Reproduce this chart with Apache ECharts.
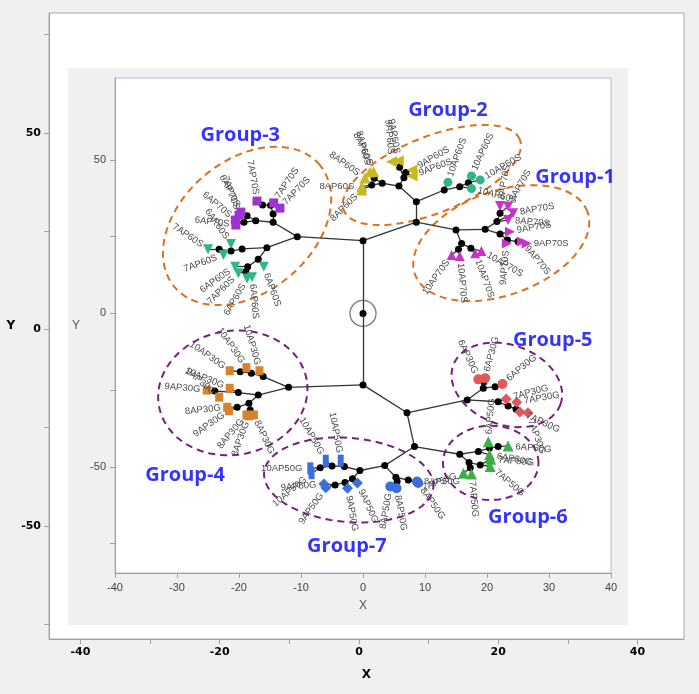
<!DOCTYPE html>
<html>
<head>
<meta charset="utf-8">
<script src="https://cdn.jsdelivr.net/npm/echarts@6/dist/echarts.min.js"></script>
<style>
  html, body { margin: 0; padding: 0; background: #f0f0f0; }
  #main { width: 699px; height: 694px; }
</style>
</head>
<body>
<div id="main"></div>
<script>
// ---- axis ticks ----
var outerXLabels = [-40, -20, 0, 20, 40];
var outerXTicks = [-40, -30, -20, -10, 0, 10, 20, 30, 40];
var outerYLabels = [50, 0, -50];
var outerYTicks = [75, 50, 25, 0, -25, -50, -75];
var innerYLabels = [50, 0, -50];
var innerYTicks = [50, 25, 0, -25, -50, -75];

// ---- tree: inner nodes [id, x, y] ----
var treeNodes = [
  ['R', 0, 0], ['UJ', 0, 23.7], ['LJ', 0, -23.3],
  ['G3A', -10.6, 25.0], ['G12', 8.6, 29.7], ['G2S', 8.6, 36.4], ['G1A', 15.0, 27.2],
  ['G4A', -12.0, -24.1], ['LJ2', 7.1, -32.4], ['G5A', 16.8, -28.2], ['LJ3', 8.3, -43.4],
  ['G6A', 15.6, -45.9], ['G7A', 3.5, -49.6],
  ['B3', -14.5, 29.7], ['C3', -14.5, 32.4], ['D3', -14.9, 35.2], ['D3b', -16.2, 35.3],
  ['E3', -17.3, 30.2], ['F3', -18.7, 31.8], ['G3', -19.2, 29.7], ['H3', -15.5, 21.4],
  ['I3', -19.5, 21.0], ['J3', -21.3, 20.3], ['K3', -23.2, 20.9], ['L3', -16.9, 17.6],
  ['M3', -18.6, 15.2], ['N3', -18.9, 13.6],
  ['P2', 5.8, 41.5], ['Q2', 6.6, 44.2], ['R2', 5.9, 47.6], ['S2', 6.9, 45.9],
  ['T2', 3.1, 42.4], ['U2', 1.4, 41.8], ['V2', 1.8, 44.0],
  ['W2', 13.1, 40.2], ['X2', 15.6, 41.3], ['Y2', 17.0, 42.6],
  ['P1', 19.7, 27.4], ['Q1', 21.6, 29.9], ['R1', 22.1, 32.6], ['S1', 22.1, 25.9],
  ['T1', 23.3, 23.9], ['U1', 25.0, 23.4], ['V1', 15.9, 22.8], ['W1', 15.4, 20.9], ['X1', 17.4, 21.2],
  ['P4', -16.1, -20.6], ['Q4', -18.0, -19.5], ['R4', -19.8, -19.0], ['S4', -16.9, -26.6],
  ['T4', -20.1, -25.8], ['U4', -23.9, -25.3], ['V4', -18.4, -29.3], ['W4', -20.3, -30.6], ['X4', -18.2, -31.5],
  ['P5', 19.4, -24.4], ['Q5', 19.5, -22.4], ['R5', 21.3, -23.9], ['S5', 21.8, -28.8],
  ['T5', 23.4, -30.2], ['U5', 24.7, -31.2],
  ['P6', 18.6, -45.0], ['Q6', 20.4, -43.9], ['R6', 21.8, -43.4], ['S6', 17.1, -48.6],
  ['T6', 17.3, -50.3], ['U6', 18.9, -49.4],
  ['P7', -0.5, -51.2], ['Q7', -3.0, -49.9], ['R7', -5.0, -49.7], ['S7', -6.9, -50.3],
  ['T7', -1.7, -53.9], ['U7', -2.9, -55.1], ['V7', -4.5, -55.9],
  ['W7', 5.3, -53.4], ['X7', 5.5, -54.8], ['Y7', 7.3, -54.3]
];

// ---- leaves [id, x, y, label, label angle] ----
var purple70S = [
  ['s1', -17.1, 36.6, '7AP70S', 100], ['s2', -14.4, 36.0, '7AP70S', 56], ['s3', -13.4, 34.3, '7AP70S', 46],
  ['s4', -19.7, 33.0, '6AP70S', 118], ['s4b', -20.0, 32.0, '7AP70S', 110],
  ['s5', -20.6, 30.4, '6AP70S', 140], ['s6', -20.5, 28.8, '6AP70S', 173]
];
var teal60S = [
  ['t1', -25.0, 20.9, '7AP60S', 146], ['t2', -22.5, 19.0, '7AP60S', 200], ['t3', -21.3, 22.6, '6AP60S', 125],
  ['t4', -20.6, 15.2, '6AP60S', 215], ['t5', -20.1, 13.1, '7AP60S', 225], ['t6', -18.7, 11.4, '6AP60S', 240],
  ['t7', -17.9, 11.8, '6AP60S', 275], ['t8', -16.0, 15.2, '6AP60S', 290]
];
var yellow9AP60S = [
  ['y1', 4.6, 49.4, '9AP60S', 95], ['y2', 5.7, 49.7, '9AP60S', 100],
  ['y3', 7.9, 46.7, '9AP60S', 30], ['y4', 7.9, 44.8, '9AP60S', 20]
];
var yellow8AP60S = [
  ['y5', 1.7, 46.2, '8AP60S', 115], ['y5b', 1.1, 46.1, '8AP60S', 105], ['y6', 0.3, 44.1, '8AP60S', 145],
  ['y7', -0.2, 41.3, '8AP60S', 180], ['y8', -0.2, 40.2, '8AP60S', 225]
];
var teal10AP60S = [
  ['c1', 13.7, 42.7, '10AP60S', 70], ['c2', 17.5, 44.8, '10AP60S', 65],
  ['c3', 18.9, 43.5, '10AP60S', 30], ['c4', 17.5, 40.7, '10AP60S', -15]
];
var mag8AP70S = [
  ['m1', 22.1, 35.0, '8AP70S', 80], ['m2', 23.4, 34.8, '8AP70S', 60],
  ['m3', 24.2, 32.6, '8AP70S', 10], ['m4', 23.4, 30.4, '8AP70S', -5]
];
var mag9AP70S = [
  ['m5', 23.7, 26.6, '9AP70S', 10], ['m6', 25.6, 23.4, '9AP70S', -50],
  ['m7', 26.4, 22.8, '9AP70S', 0], ['m8', 23.2, 22.8, '9AP70S', 265]
];
var mag10AP70S = [
  ['m9', 14.3, 19.0, '10AP70S', 235], ['m10', 15.6, 18.7, '10AP70S', 275],
  ['m11', 18.1, 19.6, '10AP70S', 290], ['m12', 19.1, 20.3, '10AP70S', 330]
];
var orange30G = [
  ['o1', -21.5, -18.7, '10AP30G', 145], ['o2', -18.8, -17.7, '10AP30G', 125], ['o3', -16.7, -18.7, '10AP30G', 106],
  ['o5', -21.5, -24.4, '10AP30G', 158], ['o6', -23.2, -27.3, '9AP30G', 140], ['o4', -25.2, -25.0, '9AP30G', 175],
  ['o7', -21.9, -30.6, '8AP30G', 186], ['o8', -21.6, -31.7, '9AP30G', 215], ['o9', -18.8, -33.1, '8AP30G', 230],
  ['o10', -18.4, -33.4, '8AP30G', 250], ['o11', -17.6, -33.1, '8AP30G', 295]
];
var red6AP30G = [
  ['r1', 18.6, -21.5, '6AP30G', 115], ['r2', 19.7, -21.1, '6AP30G', 75], ['r3', 22.5, -23.0, '6AP30G', 40]
];
var red7AP30G = [
  ['r4', 23.1, -27.9, '7AP30G', 15], ['r5', 24.8, -29.0, '7AP30G', 10],
  ['r6', 25.3, -32.1, '7AP30G', -25], ['r7', 26.6, -32.4, '7AP30G', -70]
];
var green50G = [
  ['g1', 20.2, -41.8, '6AP50G', 85], ['g2', 23.4, -43.2, '6AP50G', -5], ['g3', 20.4, -46.1, '6AP50G', -10],
  ['g3b', 20.6, -47.5, '7AP50G', -5], ['g4', 20.5, -49.9, '7AP50G', -40],
  ['g5', 16.2, -52.1, '7AP50G', 200], ['g6', 17.5, -52.3, '7AP50G', 275]
];
var blue10AP50G = [
  ['b1', -8.5, -50.5, '10AP50G', 180], ['b1b', -8.3, -52.1, '10AP50G', 220],
  ['b2', -6.0, -48.0, '10AP50G', 120], ['b3', -3.6, -48.0, '10AP50G', 100]
];
var blue9AP50G = [
  ['b4', -6.0, -56.8, '9AP50G', 235], ['b5', -6.3, -55.6, '9AP50G', 185],
  ['b6', -2.5, -57.0, '9AP50G', 280], ['b7', -0.9, -55.3, '9AP50G', 295]
];
var blue8AP50G = [
  ['b8', 4.4, -56.4, '8AP50G', 260], ['b9', 5.4, -57.0, '8AP50G', 280],
  ['b10', 8.7, -54.8, '8AP50G', 0], ['b11', 8.9, -55.3, '8AP50G', 305]
];

// ---- tree edges ----
var treeEdges = [
  ['R', 'UJ'], ['R', 'LJ'], ['UJ', 'G3A'], ['UJ', 'G12'], ['G12', 'G2S'], ['G12', 'G1A'],
  ['LJ', 'G4A'], ['LJ', 'LJ2'], ['LJ2', 'G5A'], ['LJ2', 'LJ3'], ['LJ3', 'G6A'], ['LJ3', 'G7A'],
  ['G3A', 'B3'], ['B3', 'C3'], ['C3', 'D3'], ['D3', 'D3b'], ['D3', 's2'], ['D3', 's3'], ['D3b', 's1'],
  ['B3', 'E3'], ['E3', 'F3'], ['E3', 'G3'], ['F3', 's4'], ['F3', 's4b'], ['G3', 's5'], ['G3', 's6'],
  ['G3A', 'H3'], ['H3', 'I3'], ['I3', 'J3'], ['J3', 'K3'], ['K3', 't1'], ['K3', 't2'], ['J3', 't3'],
  ['H3', 'L3'], ['L3', 'M3'], ['M3', 'N3'], ['M3', 't4'], ['N3', 't5'], ['N3', 't6'], ['N3', 't7'], ['L3', 't8'],
  ['G2S', 'P2'], ['P2', 'Q2'], ['Q2', 'R2'], ['Q2', 'S2'], ['R2', 'y1'], ['R2', 'y2'], ['S2', 'y3'], ['S2', 'y4'],
  ['P2', 'T2'], ['T2', 'U2'], ['T2', 'V2'], ['V2', 'y5'], ['V2', 'y5b'], ['U2', 'y6'], ['U2', 'y7'], ['U2', 'y8'],
  ['G2S', 'W2'], ['W2', 'c1'], ['W2', 'X2'], ['X2', 'Y2'], ['Y2', 'c2'], ['Y2', 'c3'], ['X2', 'c4'],
  ['G1A', 'P1'], ['P1', 'Q1'], ['Q1', 'R1'], ['R1', 'm1'], ['R1', 'm2'], ['Q1', 'm3'], ['Q1', 'm4'],
  ['P1', 'S1'], ['S1', 'm5'], ['S1', 'T1'], ['T1', 'U1'], ['U1', 'm6'], ['U1', 'm7'], ['T1', 'm8'],
  ['G1A', 'V1'], ['V1', 'W1'], ['W1', 'm9'], ['W1', 'm10'], ['V1', 'X1'], ['X1', 'm11'], ['X1', 'm12'],
  ['G4A', 'P4'], ['P4', 'Q4'], ['Q4', 'R4'], ['R4', 'o1'], ['Q4', 'o2'], ['P4', 'o3'],
  ['G4A', 'S4'], ['S4', 'T4'], ['T4', 'U4'], ['U4', 'o4'], ['U4', 'o6'], ['T4', 'o5'],
  ['S4', 'V4'], ['V4', 'W4'], ['V4', 'X4'], ['W4', 'o7'], ['W4', 'o8'], ['X4', 'o9'], ['X4', 'o10'], ['X4', 'o11'],
  ['G5A', 'P5'], ['P5', 'Q5'], ['Q5', 'r1'], ['Q5', 'r2'], ['P5', 'R5'], ['R5', 'r3'],
  ['G5A', 'S5'], ['S5', 'r4'], ['S5', 'T5'], ['T5', 'U5'], ['U5', 'r5'], ['U5', 'r6'], ['T5', 'r7'],
  ['G6A', 'P6'], ['P6', 'Q6'], ['Q6', 'R6'], ['Q6', 'g1'], ['R6', 'g2'], ['P6', 'g3'],
  ['G6A', 'S6'], ['S6', 'T6'], ['S6', 'U6'], ['U6', 'g4'], ['U6', 'g3b'], ['T6', 'g5'], ['T6', 'g6'],
  ['G7A', 'P7'], ['P7', 'Q7'], ['Q7', 'R7'], ['R7', 'S7'], ['S7', 'b1'], ['S7', 'b1b'], ['R7', 'b2'], ['Q7', 'b3'],
  ['P7', 'T7'], ['T7', 'U7'], ['U7', 'V7'], ['V7', 'b4'], ['V7', 'b5'], ['U7', 'b6'], ['T7', 'b7'],
  ['G7A', 'W7'], ['W7', 'X7'], ['X7', 'b8'], ['X7', 'b9'], ['W7', 'Y7'], ['Y7', 'b10'], ['Y7', 'b11']
];

// ---- dashed group outlines [cx, cy, rx, ry, tilt deg] ----
var orangeOutlines = [[-18.7, 28.5, 15.3, 21.5, 40], [11.1, 45.1, 15.3, 12.4, 22], [22.3, 22.9, 14.8, 16.9, 20]];
var purpleOutlines = [[-21.0, -25.9, 12.1, 20.2, 10], [23.2, -23.3, 9.2, 13.0, -20], [20.6, -48.7, 7.7, 12.1, 0], [-2.3, -54.3, 13.7, 13.7, -5]];

// ---- group captions ----
var groupNames = ['Group-1', 'Group-2', 'Group-3', 'Group-4', 'Group-5', 'Group-6', 'Group-7'];
var groupX = [34.2, 13.7, -19.8, -28.7, 30.6, 26.6, -2.6];
var groupY = [44.4, 66.1, 58.1, -52.6, -8.7, -66.6, -75.8];

// ---------------------------------------------------------------
var chart = echarts.init(document.getElementById('main'));

var LABEL_FONT = 'Liberation Sans';
var triDown = 'path://M0,0L10,0L5,10Z';
var triRight = 'path://M0,0L10,5L0,10Z';
var triLeft = 'path://M10,0L0,5L10,10Z';

function leafItem(leaf, w, h) {
  var ang = leaf[4];
  while (ang > 180) ang -= 360;
  var r = ang * Math.PI / 180;
  var c = Math.cos(r), s = Math.sin(r);
  var d = Math.max(w, h) / 2 + 2;
  var right = c >= -0.001;
  var rot = right ? ang : (ang > 0 ? ang - 180 : ang + 180);
  return {
    name: leaf[0],
    value: [leaf[1], leaf[2]],
    label: {
      show: true,
      formatter: leaf[3],
      position: [w / 2 + d * c, h / 2 - d * s],
      align: right ? 'left' : 'right',
      verticalAlign: 'middle',
      rotate: rot,
      fontSize: 9.5,
      fontFamily: LABEL_FONT,
      color: '#4a4a4a'
    }
  };
}

function leafSeries(list, symbol, size, color) {
  var w = Array.isArray(size) ? size[0] : size;
  var h = Array.isArray(size) ? size[1] : size;
  return {
    type: 'scatter',
    xAxisIndex: 1, yAxisIndex: 1,
    symbol: symbol,
    symbolSize: size,
    itemStyle: { color: color, opacity: 1 },
    z: 4,
    silent: true,
    data: list.map(function (l) { return leafItem(l, w, h); })
  };
}

var allLeaves = [].concat(purple70S, teal60S, yellow9AP60S, yellow8AP60S, teal10AP60S,
  mag8AP70S, mag9AP70S, mag10AP70S, orange30G, red6AP30G, red7AP30G, green50G,
  blue10AP50G, blue9AP50G, blue8AP50G);

var graphData = treeNodes.map(function (n) {
  return { name: n[0], value: [n[1], n[2]], symbolSize: 7, itemStyle: { color: '#000' } };
}).concat(allLeaves.map(function (l) {
  return { name: l[0], value: [l[1], l[2]], symbolSize: 1, itemStyle: { color: 'rgba(0,0,0,0)' } };
}));

var outlineData = orangeOutlines.map(function (o) { return o.concat([0]); })
  .concat(purpleOutlines.map(function (o) { return o.concat([1]); }));
var outlineColors = ['#dd6f1e', '#7a1c80'];

function renderOutline(params, api) {
  var c = api.coord([api.value(0), api.value(1)]);
  var a = api.size([api.value(2), 0])[0];
  var b = api.size([0, api.value(3)])[1];
  var t = api.value(4) * Math.PI / 180;
  var pts = [];
  for (var i = 0; i < 90; i++) {
    var u = i / 90 * Math.PI * 2;
    var ex = a * Math.cos(u), ey = b * Math.sin(u);
    var X = ex * Math.cos(t) - ey * Math.sin(t);
    var Y = ex * Math.sin(t) + ey * Math.cos(t);
    pts.push([c[0] + X, c[1] - Y]);
  }
  return {
    type: 'polygon',
    shape: { points: pts },
    style: { fill: 'rgba(0,0,0,0)', stroke: outlineColors[api.value(5)], lineWidth: 2, lineDash: [7, 5] }
  };
}

var OL = 49, OT = 13, OR = 684, OB = 639;
var IL = 115, IT = 78, IR = 611, IB = 573;

var option = {
  backgroundColor: '#f0f0f0',
  animation: false,
  graphic: [
    { type: 'rect', z: -30, silent: true, shape: { x: OL, y: OT, width: OR - OL, height: OB - OT },
      style: { fill: '#ffffff', stroke: '#a8a8a8', lineWidth: 1 } },
    { type: 'rect', z: -20, silent: true, shape: { x: 68, y: 68, width: 560, height: 557 },
      style: { fill: '#f0f0f0' } },
    { type: 'rect', z: -10, silent: true, shape: { x: IL, y: IT, width: IR - IL, height: IB - IT },
      style: { fill: '#ffffff', stroke: '#b9b9d0', lineWidth: 1 } }
  ],
  grid: [
    { left: OL, top: OT, width: OR - OL, height: OB - OT },
    { left: IL, top: IT, width: IR - IL, height: IB - IT }
  ],
  xAxis: [
    {
      gridIndex: 0, type: 'value', min: -44.52, max: 46.68,
      splitLine: { show: false },
      axisLine: { onZero: false, lineStyle: { color: '#a0a0a0' } },
      axisTick: { customValues: outerXTicks, length: 5, lineStyle: { color: '#a0a0a0' } },
      axisLabel: { customValues: outerXLabels, fontSize: 11, fontWeight: 'bold', color: '#000',
        fontFamily: 'DejaVu Sans', margin: 8 },
      name: 'X', nameLocation: 'middle', nameGap: 30,
      nameTextStyle: { fontSize: 12, fontWeight: 'bold', color: '#000', fontFamily: 'DejaVu Sans' }
    },
    {
      gridIndex: 1, type: 'value', min: -40, max: 40, interval: 10,
      splitLine: { show: false },
      axisLine: { onZero: false, lineStyle: { color: '#a0a0a0' } },
      axisTick: { length: 5, lineStyle: { color: '#a0a0a0' } },
      axisLabel: { fontSize: 11, color: '#444', fontFamily: LABEL_FONT, margin: 9 },
      name: 'X', nameLocation: 'middle', nameGap: 27,
      nameTextStyle: { fontSize: 12, color: '#555', fontFamily: LABEL_FONT }
    }
  ],
  yAxis: [
    {
      gridIndex: 0, type: 'value', min: -78.75, max: 80.5,
      splitLine: { show: false },
      axisLine: { onZero: false, lineStyle: { color: '#a0a0a0' } },
      axisTick: { customValues: outerYTicks, length: 5, lineStyle: { color: '#a0a0a0' } },
      axisLabel: { customValues: outerYLabels, fontSize: 11, fontWeight: 'bold', color: '#000',
        fontFamily: 'DejaVu Sans', margin: 8 },
      name: 'Y', nameLocation: 'middle', nameGap: 33, nameRotate: 0,
      nameTextStyle: { fontSize: 12, fontWeight: 'bold', color: '#000', fontFamily: 'DejaVu Sans' }
    },
    {
      gridIndex: 1, type: 'value', min: -84.6, max: 76.7,
      splitLine: { show: false },
      axisLine: { onZero: false, lineStyle: { color: '#a0a0a0' } },
      axisTick: { customValues: innerYTicks, length: 5, lineStyle: { color: '#a0a0a0' } },
      axisLabel: { customValues: innerYLabels, fontSize: 11, color: '#444', fontFamily: LABEL_FONT, margin: 9 },
      name: 'Y', nameLocation: 'middle', nameGap: 35, nameRotate: 0,
      nameTextStyle: { fontSize: 12, color: '#555', fontFamily: LABEL_FONT }
    }
  ],
  series: [
    {
      type: 'custom',
      xAxisIndex: 1, yAxisIndex: 1,
      renderItem: renderOutline,
      data: outlineData,
      silent: true,
      clip: false,
      z: 1
    },
    {
      type: 'graph',
      coordinateSystem: 'cartesian2d',
      xAxisIndex: 1, yAxisIndex: 1,
      layout: 'none',
      silent: true,
      symbol: 'circle',
      data: graphData,
      links: treeEdges.map(function (e) { return { source: e[0], target: e[1] }; }),
      lineStyle: { color: '#333', width: 1.3, opacity: 1, curveness: 0 },
      label: { show: false },
      z: 2
    },
    {
      type: 'scatter',
      xAxisIndex: 1, yAxisIndex: 1,
      symbol: 'circle', symbolSize: 26, silent: true,
      itemStyle: { color: 'rgba(0,0,0,0)', borderColor: '#555', borderWidth: 1.3 },
      data: [[0, 0]],
      z: 3
    },
    leafSeries(purple70S, 'rect', 9, '#a032d2'),
    leafSeries(teal60S, triDown, 10, '#2fb589'),
    leafSeries(yellow9AP60S, triLeft, 11, '#c8b81e'),
    leafSeries(yellow8AP60S, 'triangle', 11, '#c8b81e'),
    leafSeries(teal10AP60S, 'circle', 9, '#2fb589'),
    leafSeries(mag8AP70S, triDown, 10, '#c832c8'),
    leafSeries(mag9AP70S, triRight, 10, '#c832c8'),
    leafSeries(mag10AP70S, 'triangle', 10, '#c832c8'),
    leafSeries(orange30G, 'rect', [8, 9], '#d6832c'),
    leafSeries(red6AP30G, 'circle', 10, '#e05858'),
    leafSeries(red7AP30G, 'diamond', 11, '#e05858'),
    leafSeries(green50G, 'triangle', 11, '#3caf48'),
    leafSeries(blue10AP50G, 'rect', [6, 12], '#3b6fde'),
    leafSeries(blue9AP50G, 'diamond', 11, '#3b6fde'),
    leafSeries(blue8AP50G, 'circle', 10, '#3b6fde'),
    {
      type: 'scatter',
      xAxisIndex: 1, yAxisIndex: 1,
      symbolSize: 0, silent: true,
      label: { show: true, position: 'inside', formatter: '{b}', fontSize: 20, fontWeight: 'bold',
        color: '#0000ff', fontFamily: 'Open Sans' },
      data: groupNames.map(function (n, i) { return { name: n, value: [groupX[i], groupY[i]] }; }),
      z: 5
    }
  ]
};

chart.setOption(option);
</script>
</body>
</html>
